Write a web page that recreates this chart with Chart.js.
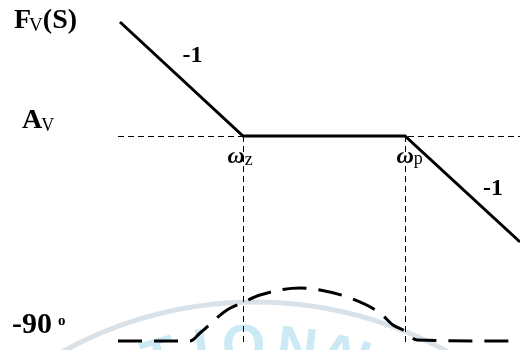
<!DOCTYPE html>
<html>
<head>
<meta charset="utf-8">
<script src="https://cdn.jsdelivr.net/npm/chart.js@4.4.1/dist/chart.umd.min.js"></script>
<style>
  html, body { margin: 0; padding: 0; background: #fff; }
  #wrap { width: 520px; height: 350px; position: relative; }
</style>
</head>
<body>
<div id="wrap"><canvas id="bode"></canvas></div>
<script>
// units = picture units, x to the right, y up from the bottom edge
const magX = [120, 243, 405, 520];
const magY = [328, 214, 214, 108];
const gainLevel = 213.5;        // A_V
const gainLineX = [118, 520];
const zeroX = 243.5;            // ω_z
const poleX = 405.5;            // ω_p
const cornerLineY = [214, 4];
const phaseX = [118, 190, 200, 227, 242, 260, 300, 320, 350, 380, 393, 403, 417, 520];
const phaseY = [9, 9, 17, 40, 47, 55, 62, 60, 52, 37, 25, 20, 10, 9];
const phaseLevel = 9;           // -90 °
const watermarkText = 'ATIONAL';

const pts = (xs, ys) => xs.map((v, i) => ({ x: v, y: ys[i] }));

const SERIF = '"Liberation Serif", "DejaVu Serif", serif';

// subscripted label, returns end x
function subText(ctx, main, sub, x, y, mainFont, subFont, dy, gap) {
    ctx.font = mainFont;
    ctx.fillText(main, x, y);
    let w = ctx.measureText(main).width;
    ctx.font = subFont;
    ctx.fillText(sub, x + w + (gap || 0), y + dy);
    return x + w + (gap || 0) + ctx.measureText(sub).width;
}

/* === watermark (faint, behind the lines) === */
const watermark = {
    id: 'watermark',
    beforeDatasetsDraw(chart) {
        const ctx = chart.ctx;
        const cx = 255, cy = 700;
        ctx.save();
        ctx.strokeStyle = 'rgba(170,190,205,0.45)';
        ctx.lineWidth = 5;
        ctx.beginPath();
        ctx.arc(cx, cy, 398, Math.PI * 1.32, Math.PI * 1.68);
        ctx.stroke();

        const centers = [108, 153, 198, 243, 300, 345, 378];
        ctx.fillStyle = 'rgba(130,205,230,0.42)';
        ctx.font = 'bold 56px "Liberation Sans", Arial, sans-serif';
        ctx.textAlign = 'center';
        ctx.textBaseline = 'top';
        watermarkText.split('').forEach((ch, i) => {
            const a = Math.asin((centers[i] - cx) / 380);
            ctx.save();
            ctx.translate(cx + 380 * Math.sin(a), cy - 380 * Math.cos(a));
            ctx.rotate(a);
            ctx.fillText(ch, 0, 0);
            ctx.restore();
        });
        ctx.restore();
    }
};

/* === text labels === */
const labels = {
    id: 'labels',
    afterDatasetsDraw(chart) {
        const ctx = chart.ctx;
        const sx = chart.scales.x, sy = chart.scales.y;
        const px = v => sx.getPixelForValue(v);
        const py = v => sy.getPixelForValue(v);
        ctx.save();
        ctx.fillStyle = '#000';
        ctx.textBaseline = 'alphabetic';
        ctx.textAlign = 'left';

        const big = 'bold 28px ' + SERIF;
        const small = '19px ' + SERIF;

        // F_V(S)
        let e = subText(ctx, 'F', 'V', 14, py(magY[0]) + 6, big, small, 3, -2);
        ctx.font = big;
        ctx.fillText('(S)', e, py(magY[0]) + 6);

        // A_V
        subText(ctx, 'A', 'V', 22, py(214) - 8, big, '18px ' + SERIF, 3, -1);

        // -90 º
        ctx.font = 'bold 30px ' + SERIF;
        ctx.fillText('-90', 12, py(phaseLevel) - 8);
        ctx.font = 'bold 15px ' + SERIF;
        ctx.fillText('o', 58, py(phaseLevel) - 16);

        // slopes
        ctx.font = 'bold 24px ' + SERIF;
        ctx.fillText('-1', px((magX[0] + magX[1]) / 2) + 1, py(magY[0]) + 40);
        ctx.fillText('-1', px(magX[3]) - 37, py(magY[3]) - 47);

        // corner frequencies
        const om = 'italic bold 24px ' + SERIF;
        const sub = '18px ' + SERIF;
        subText(ctx, 'ω', 'z', px(zeroX) - 16, py(214) + 27, om, sub, 2, 0);
        subText(ctx, 'ω', 'p', px(poleX) - 9, py(214) + 27, om, sub, 1, 0);

        ctx.restore();
    }
};

const thin = { borderColor: '#000', borderWidth: 1, borderDash: [6, 4], pointRadius: 0, fill: false };

new Chart(document.getElementById('bode'), {
    type: 'line',
    data: {
        datasets: [
            { data: pts(magX, magY), borderColor: '#000', borderWidth: 3, pointRadius: 0, fill: false, order: 0, borderJoinStyle: 'miter' },
            { data: pts(gainLineX, [gainLevel, gainLevel]), ...thin, order: 2 },
            { data: pts([zeroX, zeroX], cornerLineY), ...thin, order: 2 },
            { data: pts([poleX, poleX], cornerLineY), ...thin, order: 2 },
            {
                data: pts(phaseX, phaseY),
                borderColor: '#000', borderWidth: 3, borderDash: [24, 12],
                cubicInterpolationMode: 'monotone', pointRadius: 0, fill: false, order: 1
            }
        ]
    },
    options: {
        responsive: true,
        maintainAspectRatio: false,
        animation: false,
        layout: { padding: 0 },
        plugins: { legend: { display: false }, tooltip: { enabled: false } },
        scales: {
            x: { type: 'linear', display: false, min: 0, max: 520 },
            y: { type: 'linear', display: false, min: 0, max: 350 }
        }
    },
    plugins: [watermark, labels]
});
</script>
</body>
</html>
